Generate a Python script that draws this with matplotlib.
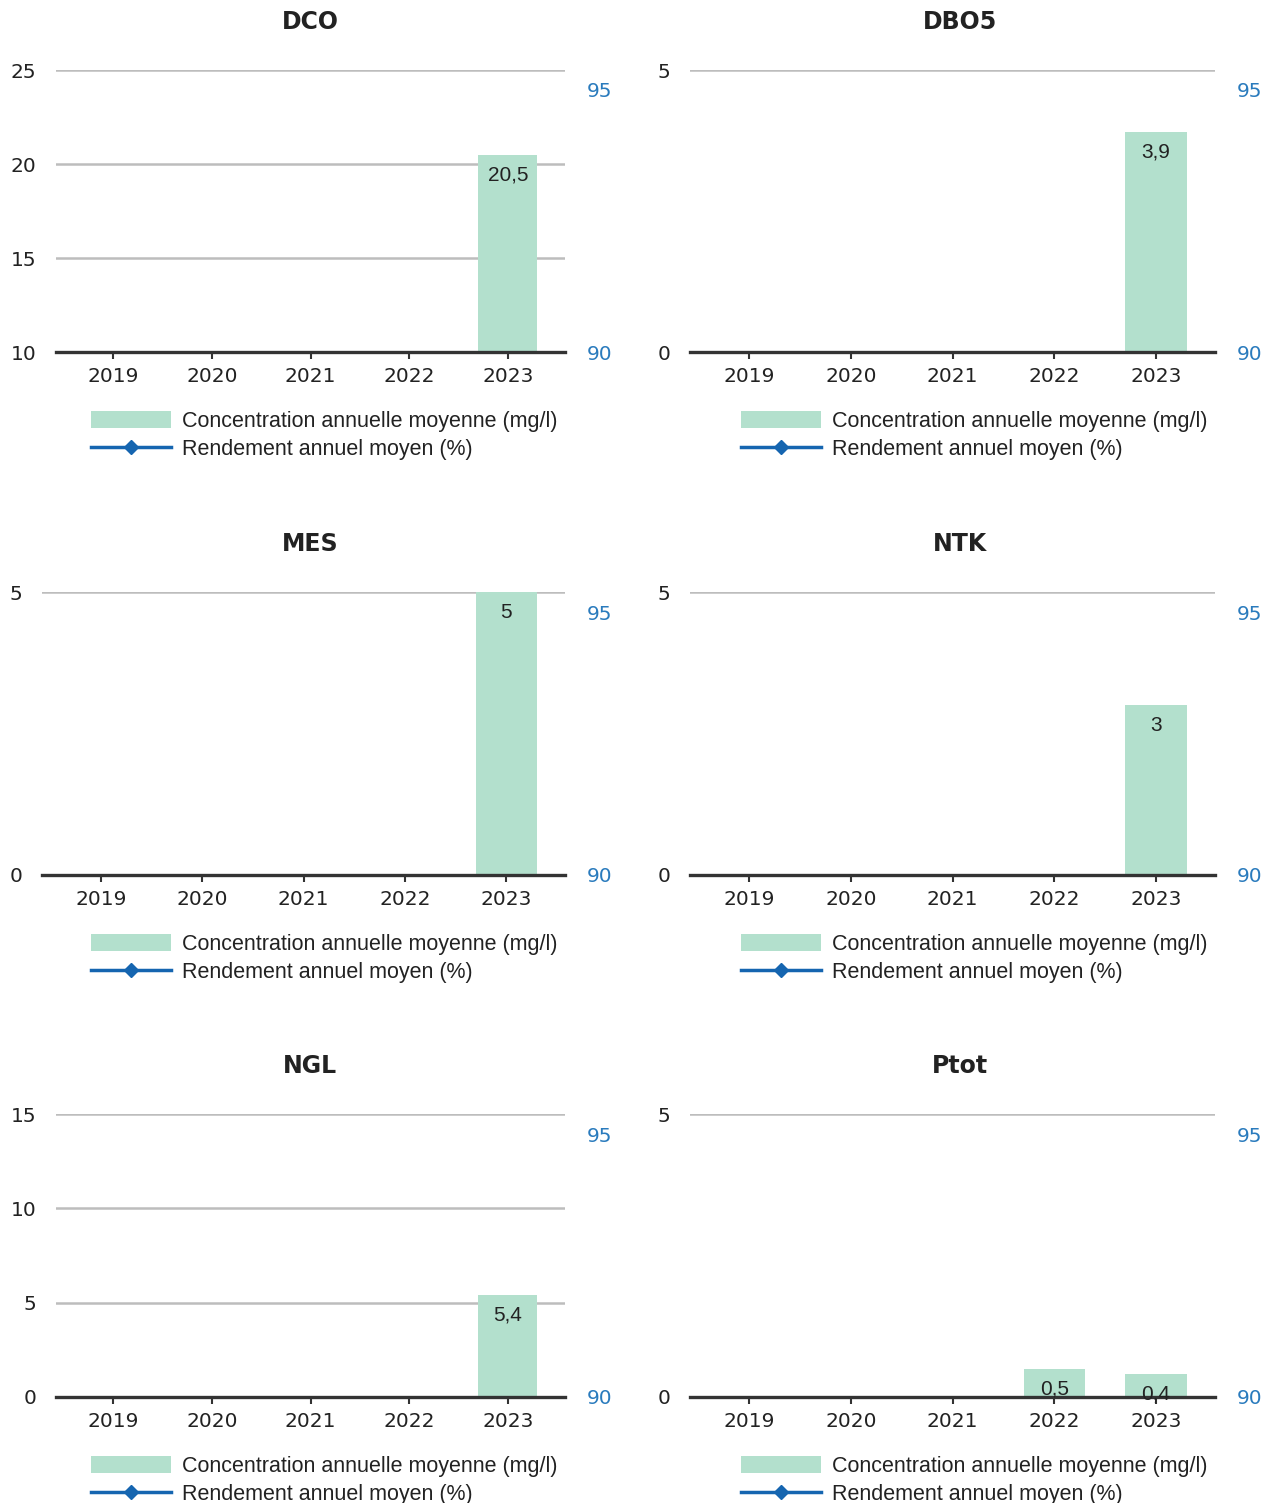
import matplotlib
matplotlib.use('Agg')
import matplotlib.pyplot as plt
from matplotlib.patches import Patch
from matplotlib.lines import Line2D
import numpy as np

nan = np.nan

# données
annees = ['2019', '2020', '2021', '2022', '2023']
parametres = ['DCO', 'DBO5', 'MES', 'NTK', 'NGL', 'Ptot']

conc_dco = [nan, nan, nan, nan, 20.5]
conc_dbo5 = [nan, nan, nan, nan, 3.9]
conc_mes = [nan, nan, nan, nan, 5]
conc_ntk = [nan, nan, nan, nan, 3]
conc_ngl = [nan, nan, nan, nan, 5.4]
conc_ptot = [nan, nan, nan, 0.5, 0.4]

# rendement annuel moyen (%) : aucune valeur
rendement = [nan, nan, nan, nan, nan]

# axe gauche : (min, max, pas)
echelles = [(10, 25, 5), (0, 5, 5), (0, 5, 5), (0, 5, 5), (0, 15, 5), (0, 5, 5)]
concentrations = [conc_dco, conc_dbo5, conc_mes, conc_ntk, conc_ngl, conc_ptot]

lbl_conc = 'Concentration annuelle moyenne (mg/l)'
lbl_rend = 'Rendement annuel moyen (%)'

W, H = 1272, 1503
fig = plt.figure(figsize=(W / 100, H / 100), dpi=100)

# boîtes des graphiques en pixels : x0, x1, haut, bas
boites = [(56, 565, 70, 352), (690, 1215, 70, 352),
          (42, 565, 592, 875), (690, 1215, 592, 875),
          (56, 565, 1114, 1397), (690, 1215, 1114, 1397)]

vert = '#b3e0cd'
bleu = '#2a7bbd'
gris = '#bdbdbd'
fonce = '#333333'

x = np.arange(len(annees))

for i, nom in enumerate(parametres):
    x0, x1, yh, yb = boites[i]
    ax = fig.add_axes([x0 / W, 1 - yb / H, (x1 - x0) / W, (yb - yh) / H])
    ymin, ymax, pas = echelles[i]
    vals = concentrations[i]

    ax.set_xlim(-0.58, 4.58)
    ax.set_ylim(ymin, ymax)
    ax.set_yticks(np.arange(ymin, ymax + 0.01, pas))
    ax.yaxis.grid(True, color=gris, lw=1.8)
    ax.set_axisbelow(True)
    for s in ax.spines.values():
        s.set_visible(False)

    ax.bar(x, [v - ymin if not np.isnan(v) else nan for v in vals], bottom=ymin,
           width=0.6, color=vert, zorder=2)
    ax.axhline(ymin, color=fonce, lw=2.4, zorder=3, clip_on=False)

    for xi, v in zip(x, vals):
        if not np.isnan(v):
            ax.annotate(f'{v:g}'.replace('.', ','), (xi, v), xytext=(0, -20),
                        textcoords='offset pixels', ha='center', va='center',
                        fontsize=15, family='Liberation Sans', color='#222222',
                        zorder=4)

    ax.set_xticks(x)
    ax.set_xticklabels(annees)
    ax.tick_params(axis='x', length=5, width=1.5, color=fonce, pad=6,
                   labelsize=14.5, labelcolor='#222222')
    ax.tick_params(axis='y', length=0, pad=14, labelsize=14.5, labelcolor='#222222')

    ax2 = ax.twinx()
    ax2.set_ylim(90, 90 + 5 * (yb - yh) / (yb - yh - 20))
    ax2.set_yticks([90, 95])
    ax2.tick_params(axis='y', length=0, pad=16, labelsize=14.5, labelcolor=bleu)
    for s in ax2.spines.values():
        s.set_visible(False)
    ax2.plot(x, rendement, color='#1565b0', lw=2.5, marker='D', ms=7)

    cx = 310 if x0 < 600 else 960
    fig.text(cx / W, 1 - (yh - 48) / H, nom, ha='center', va='center',
             fontsize=17, fontweight='bold', color='#222222')

    lx = 91 if x0 < 600 else 741
    poignees = [Patch(facecolor=vert, edgecolor='none'),
                Line2D([], [], color='#1565b0', lw=2.5, marker='D', ms=7)]
    fig.legend(poignees, [lbl_conc, lbl_rend], loc='upper left',
               bbox_to_anchor=(lx / W, 1 - (yb + 59) / H), frameon=False,
               borderpad=0, borderaxespad=0, handlelength=3.7, handleheight=0.85,
               handletextpad=0.55, labelspacing=0.33,
               prop={'family': 'Liberation Sans', 'size': 15.5}, labelcolor='#222222')

fig.savefig('out.png', dpi=100, facecolor='white')
